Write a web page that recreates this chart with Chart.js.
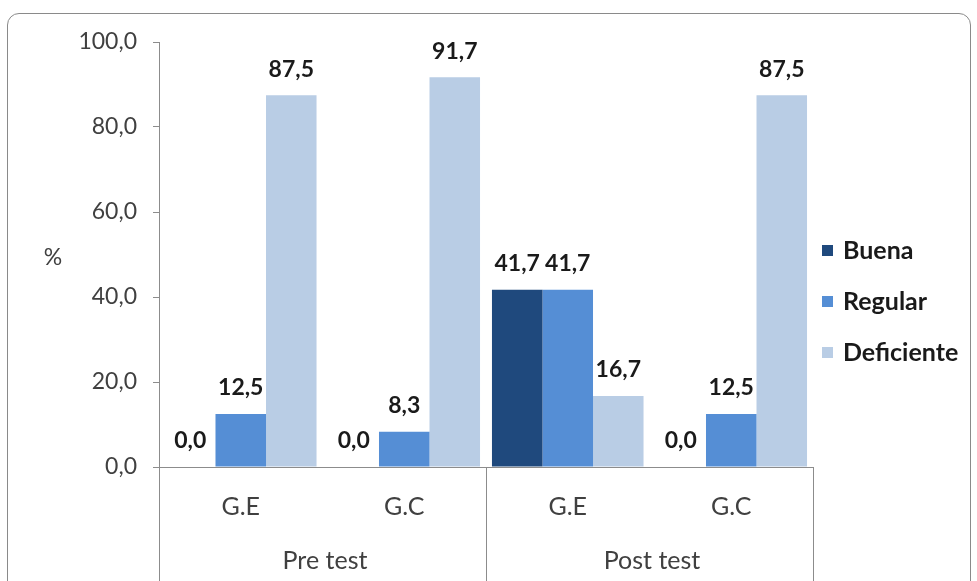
<!DOCTYPE html>
<html>
<head>
<meta charset="utf-8">
<script src="https://cdn.jsdelivr.net/npm/chart.js@4/dist/chart.umd.min.js"></script>
<style>
  html, body { margin: 0; padding: 0; background: #fff; }
  #frame {
    position: absolute; left: 7px; top: 13px; width: 964px; height: 600px;
    border: 1px solid #8a8a8a; border-radius: 12px; box-sizing: border-box;
  }
  #wrap { position: absolute; left: 0; top: 0; width: 977px; height: 581px; }
</style>
</head>
<body>
<div id="frame"></div>
<div id="wrap"><canvas id="resultsChart"></canvas></div>
<script>
const groups = ['G.E', 'G.C', 'G.E', 'G.C'];
const phases = ['Pre test', 'Post test'];
const buena = [0.0, 0.0, 41.7, 0.0];
const regular = [12.5, 8.3, 41.7, 12.5];
const deficiente = [87.5, 91.7, 16.7, 87.5];
const yTicks = [0, 20, 40, 60, 80, 100];

const FONT = 'Lato, "Open Sans", sans-serif';
const fmt = v => v.toFixed(1).replace('.', ',');

// value labels above each bar, "%" title, legend and the two-level category axis
const extras = {
  id: 'extras',
  afterDatasetsDraw(chart) {
    const ctx = chart.ctx;
    ctx.save();
    ctx.font = 'bold 23px ' + FONT;
    ctx.fillStyle = '#1a1a1a';
    ctx.textAlign = 'center';
    ctx.textBaseline = 'middle';
    chart.data.datasets.forEach((ds, i) => {
      chart.getDatasetMeta(i).data.forEach((bar, j) => {
        ctx.fillText(fmt(ds.data[j]), bar.x, bar.y - 26);
      });
    });
    ctx.restore();
  },
  afterDraw(chart) {
    const ctx = chart.ctx;
    const x = chart.scales.x;
    const area = chart.chartArea;
    const half = (x.getPixelForValue(1) - x.getPixelForValue(0)) / 2;
    ctx.save();
    ctx.fillStyle = '#404040';
    ctx.font = '23px ' + FONT;
    ctx.textAlign = 'center';
    ctx.textBaseline = 'middle';
    ctx.fillText('%', 53, (area.top + area.bottom) / 2 + 3);

    // group separators and phase labels below the category ticks
    ctx.strokeStyle = '#8c8c8c';
    ctx.lineWidth = 1;
    const bounds = [0, 2, 4].map(i => Math.round(x.getPixelForValue(i) - half) + 0.5);
    bounds.forEach(px => {
      ctx.beginPath();
      ctx.moveTo(px, area.bottom);
      ctx.lineTo(px, chart.height);
      ctx.stroke();
    });
    ctx.font = '25px ' + FONT;
    phases.forEach((p, k) => {
      ctx.fillText(p, (bounds[k] + bounds[k + 1]) / 2 + 2, 561);
    });

    // legend on the right
    ctx.textAlign = 'left';
    ctx.font = 'bold 25px ' + FONT;
    chart.data.datasets.forEach((ds, i) => {
      const yc = 250 + i * 51;
      ctx.fillStyle = ds.backgroundColor;
      ctx.fillRect(area.right + 9, yc - 5, 11, 11);
      ctx.fillStyle = '#1a1a1a';
      ctx.fillText(ds.label, area.right + 30, yc + 1);
    });
    ctx.restore();
  }
};

new Chart(document.getElementById('resultsChart'), {
  type: 'bar',
  data: {
    labels: groups,
    datasets: [
      { label: 'Buena', data: buena, backgroundColor: '#1F497D' },
      { label: 'Regular', data: regular, backgroundColor: '#558ED5' },
      { label: 'Deficiente', data: deficiente, backgroundColor: '#B9CDE5' }
    ]
  },
  options: {
    responsive: true,
    maintainAspectRatio: false,
    animation: false,
    categoryPercentage: 0.927,
    barPercentage: 1,
    layout: { padding: { top: 42, right: 164, bottom: 0, left: 0 } },
    plugins: {
      tooltip: { enabled: false },
      legend: { display: false }
    },
    scales: {
      x: {
        grid: { display: false },
        border: { color: '#8c8c8c' },
        ticks: { color: '#404040', font: { family: FONT, size: 25 }, padding: 17 },
        afterFit(scale) { scale.height = 114; }
      },
      y: {
        min: 0,
        max: 100,
        afterBuildTicks(scale) { scale.ticks = yTicks.map(v => ({ value: v })); },
        grid: { drawOnChartArea: false, tickLength: 6, color: '#8c8c8c' },
        border: { color: '#8c8c8c' },
        ticks: {
          color: '#404040',
          font: { family: FONT, size: 23 },
          padding: 16,
          callback: v => fmt(v)
        },
        afterFit(scale) { scale.width = 159; }
      }
    }
  },
  plugins: [extras]
});
</script>
</body>
</html>
